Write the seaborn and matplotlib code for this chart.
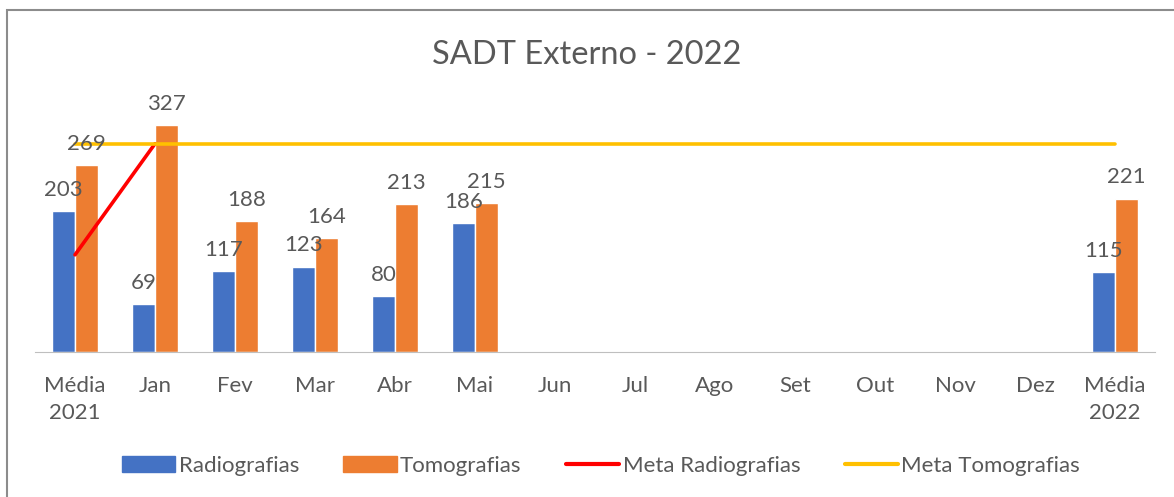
import numpy as np
import pandas as pd
import matplotlib.pyplot as plt
import seaborn as sns
from matplotlib.patches import Patch, Rectangle
from matplotlib.lines import Line2D

categories = ['Média\n2021', 'Jan', 'Fev', 'Mar', 'Abr', 'Mai', 'Jun', 'Jul',
              'Ago', 'Set', 'Out', 'Nov', 'Dez', 'Média\n2022']
radiografias = [203, 69, 117, 123, 80, 186, np.nan, np.nan, np.nan, np.nan,
                np.nan, np.nan, np.nan, 115]
tomografias = [269, 327, 188, 164, 213, 215, np.nan, np.nan, np.nan, np.nan,
               np.nan, np.nan, np.nan, 221]
meta_radiografias = [140, 300, np.nan, np.nan, np.nan, np.nan, np.nan, np.nan,
                     np.nan, np.nan, np.nan, np.nan, np.nan, np.nan]
meta_tomografias = [300] * 14

blue = '#4472C4'
orange = '#ED7D31'
txt = '#595959'

sns.set_style('white')
plt.rcParams['font.family'] = ['Lato', 'DejaVu Sans']

df = pd.DataFrame({'cat': categories * 2,
                   'value': radiografias + tomografias,
                   'serie': ['Radiografias'] * 14 + ['Tomografias'] * 14})

fig = plt.figure(figsize=(11.74, 4.97), dpi=100)
ax = fig.add_axes([35 / 1174, 145 / 497, 1120 / 1174, 243 / 497])

sns.barplot(data=df, x='cat', y='value', hue='serie', order=categories,
            hue_order=['Radiografias', 'Tomografias'],
            palette=[blue, orange], width=0.575, gap=0, saturation=1,
            legend=False, ax=ax)

for cont in ax.containers:
    ax.bar_label(cont, fmt='%g', padding=8, fontsize=16, color=txt)

x = np.arange(len(categories))
sns.lineplot(x=x, y=meta_radiografias, color='#FF0000', lw=2.6, ax=ax)
sns.lineplot(x=x, y=meta_tomografias, color='#FFC000', lw=2.6, ax=ax)

ax.set_xlim(-0.5, 13.5)
ax.set_ylim(0, 350)
ax.set_xlabel('')
ax.set_ylabel('')
ax.set_yticks([])
ax.set_xticks(x)
ax.set_xticklabels(categories, fontsize=16, color=txt, linespacing=1.45)
ax.tick_params(axis='x', which='major', length=0, pad=17)
ax.set_xticks(np.arange(-0.5, 14, 1), minor=True)
ax.tick_params(axis='x', which='minor', length=7, color='#BFBFBF', width=1)
for s in ['top', 'right', 'left']:
    ax.spines[s].set_visible(False)
ax.spines['bottom'].set_color('#BFBFBF')

fig.text(0.5, (497 - 55) / 497, 'SADT Externo - 2022', fontsize=23.5,
         color=txt, ha='center', va='center')

handles = [Patch(color=blue, label='Radiografias'),
           Patch(color=orange, label='Tomografias'),
           Line2D([], [], color='#FF0000', lw=3, label='Meta Radiografias'),
           Line2D([], [], color='#FFC000', lw=3, label='Meta Tomografias')]
leg = fig.legend(handles=handles, loc='center', bbox_to_anchor=(0.512, 31 / 497),
                 ncol=4, frameon=False, fontsize=16, handlelength=2.4,
                 handleheight=0.7, columnspacing=2.0, handletextpad=0.15)
for t in leg.get_texts():
    t.set_color(txt)

fig.patches.append(Rectangle((7 / 1174, -0.1), 1.2, (487 / 497) + 0.1,
                             transform=fig.transFigure, fill=False,
                             edgecolor='#8C8C8C', lw=1.5))

fig.savefig('out.png', dpi=100)
